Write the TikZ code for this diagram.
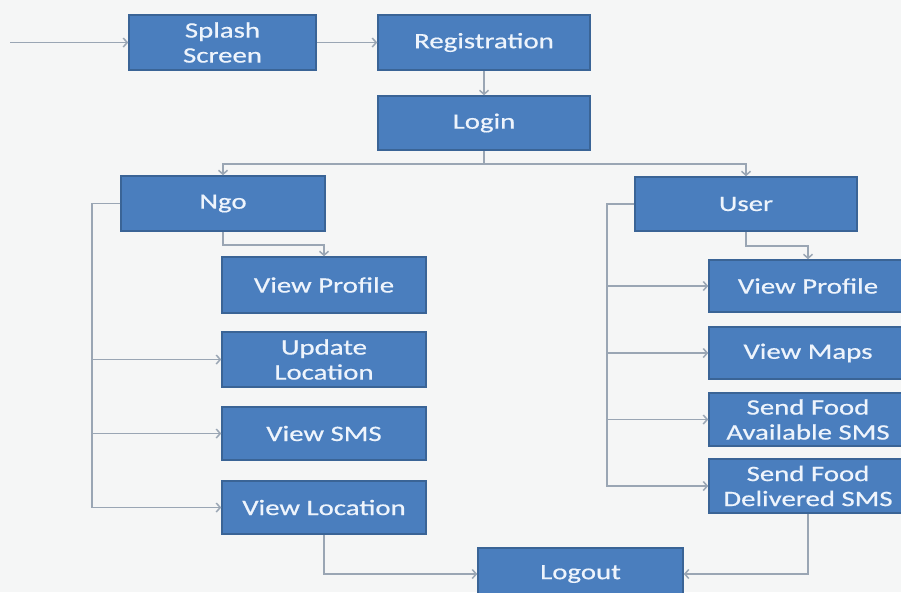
\documentclass[tikz,border=0pt]{standalone}
\usepackage{fontspec}
\usepackage{graphicx}
\setmainfont{Carlito}[BoldFont=Carlito, BoldFeatures={FakeBold=0.5}]
\usetikzlibrary{arrows.meta}
\definecolor{bg}{HTML}{F5F6F6}
\definecolor{boxfill}{HTML}{4A7EBE}
\definecolor{boxline}{HTML}{3A6496}
\definecolor{txt}{HTML}{EEF4FC}
\definecolor{conn}{HTML}{9AA6B4}
\newcommand\hs[1]{\scalebox{1.31}[1]{\bfseries #1}}
\tikzset{
  box/.style={draw=boxline, line width=1.5pt, fill=boxfill, text=txt,
    inner sep=0pt, align=center,
    font=\fontsize{22}{25}\selectfont},
  connline/.style={draw=conn, line width=1.5pt},
  connarrow/.style={connline, -{Straight Barb[length=4pt,width=9pt]}}
}
\begin{document}
\begin{tikzpicture}[x=1pt,y=-1pt]
\fill[bg] (0,0) rectangle (901,592);
\useasboundingbox (0,0) rectangle (901,592);
\clip (0,0) rectangle (901,592);
% top row
\node[box, minimum width=187pt, minimum height=55pt] (splash) at (222.5,42.5) {\hs{Splash}\\\hs{Screen}};
\node[box, minimum width=212pt, minimum height=55pt] (reg) at (484,42.5) {\hs{Registration}};
\node[box, minimum width=212pt, minimum height=54pt] (login) at (484,123) {\hs{Login}};
% roles
\node[box, minimum width=204pt, minimum height=55pt] (ngo) at (223,203.5) {\hs{Ngo}};
\node[box, minimum width=222pt, minimum height=54pt] (user) at (746,204) {\hs{User}};
% ngo column
\node[box, minimum width=204pt, minimum height=56pt] (nvp) at (324,285) {\hs{View Profile}};
\node[box, minimum width=204pt, minimum height=55pt] (nul) at (324,359.5) {\hs{Update}\\\hs{Location}};
\node[box, minimum width=204pt, minimum height=53pt] (nvs) at (324,433.5) {\hs{View SMS}};
\node[box, minimum width=204pt, minimum height=53pt] (nvl) at (324,507.5) {\hs{View Location}};
% user column
\node[box, minimum width=198pt, minimum height=52pt] (uvp) at (808,286) {\hs{View Profile}};
\node[box, minimum width=198pt, minimum height=52pt] (uvm) at (808,353) {\hs{View Maps}};
\node[box, minimum width=198pt, minimum height=53pt] (usa) at (808,419.5) {\hs{Send Food}\\\hs{Available SMS}};
\node[box, minimum width=198pt, minimum height=54pt] (usd) at (808,486) {\hs{Send Food}\\\hs{Delivered SMS}};
% logout
\node[box, minimum width=205pt, minimum height=52pt] (logout) at (580.5,574) {\hs{Logout}};
% helper coordinates
\coordinate (start) at (10,42.5);
\coordinate (bus) at (484,164);
\coordinate (lbus) at (92,203.5);
\coordinate (rbus) at (607,204);
% connectors
\draw[connarrow] (start) -- (splash.west);
\draw[connarrow] (splash.east) -- (reg.west);
\draw[connarrow] (reg.south) -- (login.north);
\draw[connline] (login.south) -- (bus);
\draw[connarrow] (bus) -| (ngo.north);
\draw[connarrow] (bus) -| (user.north);
% ngo branch
\draw[connarrow] (ngo.south) -- ++(0,13) -| (nvp.north);
\draw[connarrow] (ngo.west) -- (lbus) |- (nvl.west);
\draw[connarrow] (lbus |- nul.west) -- (nul.west);
\draw[connarrow] (lbus |- nvs.west) -- (nvs.west);
% user branch
\draw[connarrow] (user.south) -- ++(0,14) -| (uvp.north);
\draw[connarrow] (user.west) -- (rbus) |- (usd.west);
\draw[connarrow] (rbus |- uvp.west) -- (uvp.west);
\draw[connarrow] (rbus |- uvm.west) -- (uvm.west);
\draw[connarrow] (rbus |- usa.west) -- (usa.west);
% to logout
\draw[connarrow] (nvl.south) |- (logout.west);
\draw[connarrow] (usd.south) |- (logout.east);
\end{tikzpicture}
\end{document}
